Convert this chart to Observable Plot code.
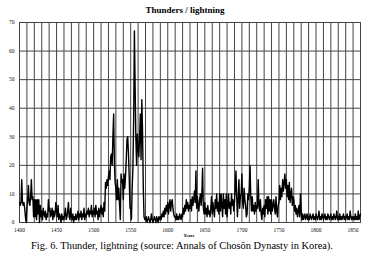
<!DOCTYPE html>
<html>
<head>
<meta charset="utf-8">
<script src="https://cdn.jsdelivr.net/npm/d3@7"></script>
<script src="https://cdn.jsdelivr.net/npm/@observablehq/plot@0.6"></script>
<style>
  html, body { margin: 0; padding: 0; background: #fff; }
  #chart svg { display: block; }
</style>
</head>
<body>
<div id="chart"></div>
<script>
// Thunder / lightning records per year
const firstYear = 1400;
const values1400s = [
  7,6,7,15,7,6,7,5,2,0,
  5,8,13,7,6,9,15,8,9,2,
  8,2,8,1,8,3,8,0,6,2,
  4,1,5,3,2,4,1,3,2,8,
  4,5,2,3,5,1,4,2,3,7,
  4,2,6,1,3,2,0,3,1,2,
  1,3,5,1,2,4,7,2,1,5,
  2,1,3,0,2,1,3,1,2,4,
  1,3,2,4,1,3,2,5,1,3,
  2,4,3,5,2,4,3,6,2,4
];
const values1500s = [
  3,5,2,6,3,4,1,5,2,4,
  6,3,5,2,7,4,14,12,15,13,
  16,18,15,23,24,20,30,38,21,14,
  12,8,15,8,12,6,1,17,14,15,
  8,17,12,16,22,29,30,24,16,5,
  5,1,12,19,36,67,47,29,20,31,
  26,23,30,38,22,43,32,12,2,1,
  1,2,0,1,2,1,0,1,3,1,
  0,1,2,1,0,2,1,0,2,1,
  2,1,3,2,4,2,5,3,6,4
];
const values1600s = [
  7,3,6,8,4,7,8,5,3,2,
  2,1,3,1,2,1,3,2,1,3,
  2,5,3,6,4,8,5,7,4,6,
  5,8,4,9,6,8,11,7,18,5,
  9,6,4,8,10,6,10,19,5,3,
  7,3,5,2,6,3,4,2,5,9,
  3,7,4,2,8,5,10,4,7,3,
  10,4,10,6,2,10,5,8,3,10,
  2,6,10,5,7,3,10,6,8,4,
  7,12,18,9,2,8,15,5,9,10
];
const values1700s = [
  17,7,5,12,8,6,2,3,10,8,
  12,20,9,4,9,4,6,3,7,4,
  6,5,15,6,4,8,3,1,5,3,
  6,2,8,5,9,3,9,4,8,3,
  8,4,6,8,5,3,9,4,2,6,
  7,13,8,12,9,15,11,14,17,12,
  15,9,13,8,14,7,10,12,6,9,
  8,4,6,3,5,2,4,6,2,10,
  4,1,3,1,2,3,1,2,3,1,
  2,1,3,2,1,2,3,1,2,1
];
const values1800s = [
  3,2,1,2,4,1,2,1,3,2,
  1,2,3,1,2,1,3,2,1,2,
  3,1,2,1,3,2,1,2,4,1,
  2,1,3,1,2,1,2,3,1,2,
  1,2,3,1,2,1,4,2,1,2,
  1,2,1,3,1,2,1,4,1,2,3
];
const yTicks = [0,10,20,30,40,50,60,70];
const xLabelTicks = [1400,1450,1500,1550,1600,1650,1700,1750,1800,1850];
const xGridYears = d3.range(1400, 1861, 10);
const titleText = "Thunders / lightning";
const xAxisTitle = "Years";
const captionText = "Fig. 6. Thunder, lightning (source: Annals of Chosŏn Dynasty in Korea).";

const allValues = [...values1400s, ...values1500s, ...values1600s, ...values1700s, ...values1800s];
const data = allValues.map((v, i) => ({year: firstYear + i, value: v}));

const chart = Plot.plot({
  width: 372,
  height: 262,
  marginLeft: 19,
  marginRight: 12,
  marginTop: 22,
  marginBottom: 40,
  style: {background: "#fff", fontFamily: "Liberation Serif, serif", color: "#111"},
  x: {domain: [1400, 1860]},
  y: {domain: [0, 70]},
  marks: [
    Plot.ruleX(xGridYears, {stroke: "#444", strokeWidth: 1}),
    Plot.ruleY(yTicks, {stroke: "#444", strokeWidth: 1}),
    Plot.frame({stroke: "#444"}),
    Plot.line(data, {x: "year", y: "value", stroke: "#000", strokeWidth: 1.4}),
    Plot.axisY({ticks: yTicks, tickSize: 0, tickPadding: 5, fontSize: 5.5, label: null}),
    Plot.axisX({ticks: xLabelTicks, tickSize: 0, tickPadding: 6, fontSize: 5.5, label: null, tickFormat: d3.format("d")}),
    Plot.text([titleText], {frameAnchor: "top", dy: -16, dx: -5, fontWeight: "bold", fontSize: 9, fill: "#000"}),
    Plot.text([xAxisTitle], {frameAnchor: "bottom-left", dx: 164, dy: 14, textAnchor: "start", fontWeight: "bold", fontSize: 4.5, fill: "#000"}),
    Plot.text([captionText], {frameAnchor: "bottom", dy: 26, dx: -8, fontSize: 10.4, fill: "#000"})
  ]
});
document.getElementById("chart").appendChild(chart);
</script>
</body>
</html>
